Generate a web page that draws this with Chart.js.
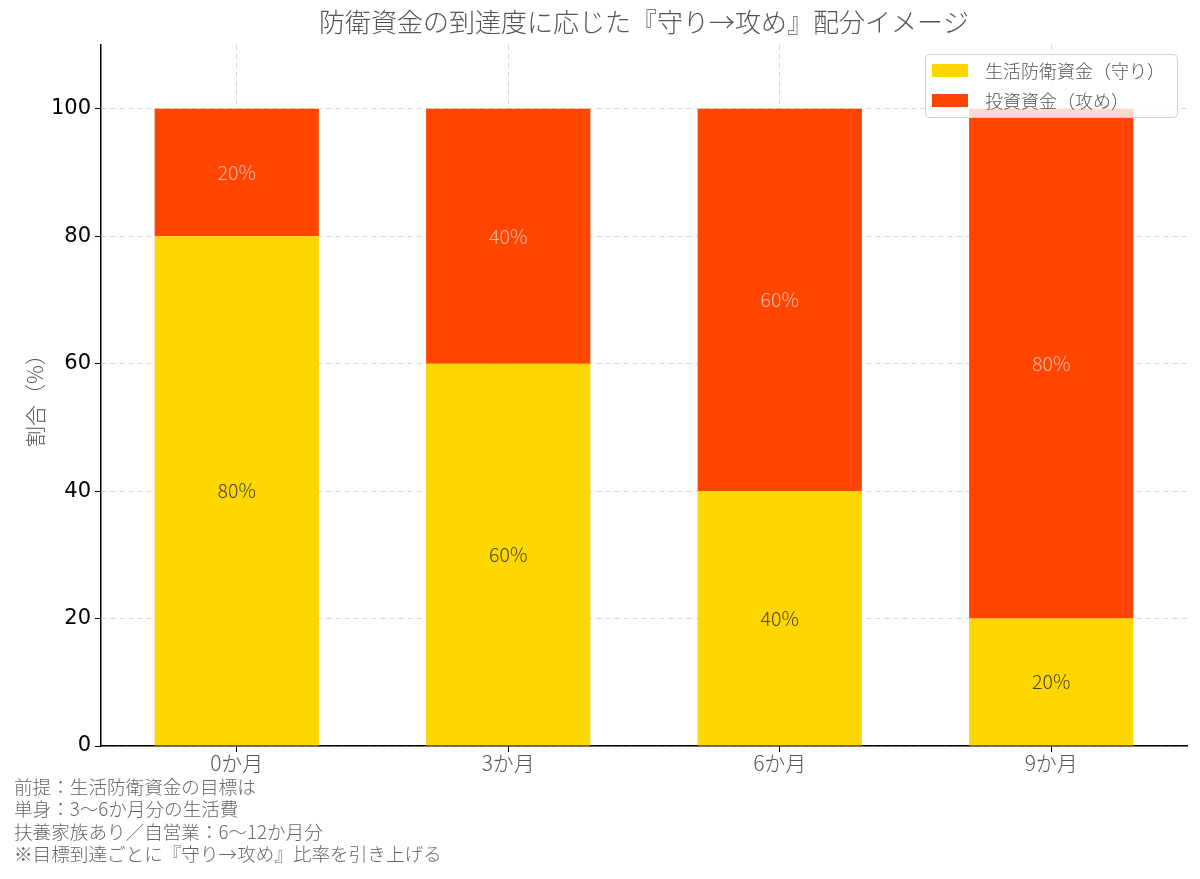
<!DOCTYPE html>
<html><head><meta charset="utf-8">
<script src="https://cdn.jsdelivr.net/npm/chart.js@4/dist/chart.umd.min.js"></script>
<style>html,body{margin:0;padding:0;background:#fff;overflow:hidden}#wrap{width:1200px;height:879px;position:relative}canvas{display:block}</style>
</head><body><div id="wrap"><canvas id="c" width="1200" height="879" style="width:1200px;height:879px"></canvas></div>
<script>
const categories = ['0か月', '3か月', '6か月', '9か月'];
const defenseValues = [80, 60, 40, 20];
const attackValues = [20, 40, 60, 80];
const seriesNames = ['生活防衛資金（守り）', '投資資金（攻め）'];
const yTicks = [0, 20, 40, 60, 80, 100];
const chartTitle = '防衛資金の到達度に応じた『守り→攻め』配分イメージ';
const yAxisTitle = '割合（%）';
const footnotes = [
  '前提：生活防衛資金の目標は',
  '単身：3〜6か月分の生活費',
  '扶養家族あり／自営業：6〜12か月分',
  '※目標到達ごとに『守り→攻め』比率を引き上げる'
];
const colors = ['#FFD700', '#FF4500'];
const CJK = '"Noto Sans CJK JP", "Noto Sans", sans-serif';

const extras = {
  id: 'extras',
  afterDatasetsDraw(chart) {
    const ctx = chart.ctx;
    ctx.save();
    ctx.font = '300 19.5px ' + CJK;
    ctx.textAlign = 'center';
    ctx.textBaseline = 'middle';
    chart.data.datasets.forEach((ds, di) => {
      const meta = chart.getDatasetMeta(di);
      meta.data.forEach((bar, i) => {
        const v = ds.data[i];
        const cy = (bar.y + bar.base) / 2;
        ctx.fillStyle = di === 0 ? 'rgba(40,40,40,0.85)' : 'rgba(255,255,255,0.62)';
        ctx.fillText(v + '%', bar.x, cy);
      });
    });
    ctx.restore();
  },
  afterDraw(chart) {
    const ctx = chart.ctx;
    ctx.save();
    ctx.font = '300 26px ' + CJK;
    ctx.fillStyle = '#555';
    ctx.textAlign = 'center';
    ctx.textBaseline = 'middle';
    const ca = chart.chartArea;
    ctx.fillText(chartTitle, (ca.left + ca.right) / 2, 22);
    ctx.font = '300 18.6px ' + CJK;
    ctx.textAlign = 'left';
    ctx.fillStyle = '#666';
    footnotes.forEach((t, i) => ctx.fillText(t, 14, 787 + i * 22.3));
    const lx = 925, ly = 54, lw = 252, lh = 63;
    ctx.fillStyle = 'rgba(255,255,255,0.8)';
    ctx.strokeStyle = '#d0d0d0';
    ctx.lineWidth = 1;
    ctx.beginPath();
    ctx.roundRect(lx + 0.5, ly + 0.5, lw, lh, 4);
    ctx.fill();
    ctx.stroke();
    ctx.font = '300 18px ' + CJK;
    chart.data.datasets.forEach((ds, i) => {
      const cy = ly + 16 + i * 30;
      ctx.fillStyle = ds.backgroundColor;
      ctx.fillRect(932, cy - 6, 36, 13);
      ctx.fillStyle = '#555';
      ctx.fillText(ds.label, 985, cy + 1);
    });
    ctx.restore();
  }
};

new Chart(document.getElementById('c'), {
  type: 'bar',
  data: {
    labels: categories,
    datasets: [
      { label: seriesNames[0], data: defenseValues, backgroundColor: colors[0], borderWidth: 0 },
      { label: seriesNames[1], data: attackValues, backgroundColor: colors[1], borderWidth: 0 }
    ]
  },
  options: {
    responsive: false,
    maintainAspectRatio: false,
    animation: false,
    devicePixelRatio: 1,
    layout: { padding: { left: 0, right: 13, top: 45, bottom: 93 } },
    plugins: { legend: { display: false }, title: { display: false }, tooltip: { enabled: false } },
    datasets: { bar: { barPercentage: 0.605, categoryPercentage: 1 } },
    scales: {
      x: {
        stacked: true,
        z: 1,
        offset: true,
        afterFit(s) { s.height = 40; },
        grid: { offset: false, color: 'rgba(140,140,140,0.35)', lineWidth: 1, drawTicks: true, tickLength: 6, tickColor: '#000' },
        border: { display: true, color: '#000', width: 1.5, dash: [5, 4] },
        ticks: { color: '#555', font: { family: CJK, size: 21, weight: 300 }, padding: -2 },
        afterFitDummy: null
      },
      y: {
        stacked: true,
        z: 1,
        min: 0,
        max: 110,
        afterFit(s) { s.width = 101; },
        afterBuildTicks(s) { s.ticks = yTicks.map(v => ({ value: v })); },
        grid: { color: 'rgba(140,140,140,0.35)', lineWidth: 1, drawTicks: true, tickLength: 6, tickColor: '#000' },
        border: { display: true, color: '#000', width: 1.5, dash: [5, 4] },
        ticks: { color: '#000', font: { family: '"DejaVu Sans", sans-serif', size: 21 }, padding: 4 },
        title: { display: true, text: yAxisTitle, color: '#555', font: { family: CJK, size: 21, weight: 300 }, padding: { top: 22, bottom: 0 } }
      }
    }
  },
  plugins: [extras]
});
</script></body></html>
